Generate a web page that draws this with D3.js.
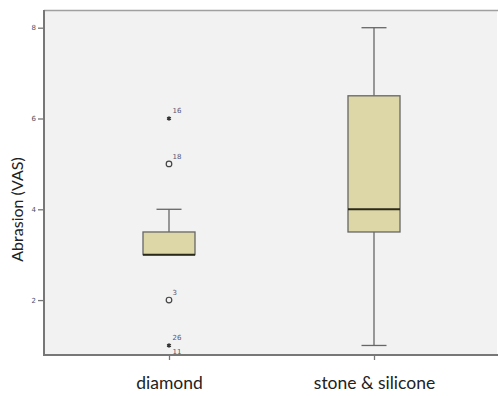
<!DOCTYPE html>
<html>
<head>
<meta charset="utf-8">
<script src="https://cdn.jsdelivr.net/npm/d3@7"></script>
<style>
  html, body { margin: 0; padding: 0; background: #ffffff; }
  svg { display: block; }
</style>
</head>
<body>
<svg id="chart" width="498" height="396"></svg>
<script>
// Groups and their box-plot summaries (Abrasion, VAS scale)
const groups = ["diamond", "stone & silicone"];
const q1 = [3, 3.5];
const medians = [3, 4];
const q3 = [3.5, 6.5];
const whiskerLow = [3, 1];
const whiskerHigh = [4, 8];

// Outlying cases: group index, value, marker type, case labels
const outlierGroup = [0, 0, 0, 0];
const outlierValue = [6, 5, 2, 1];
const outlierKind = ["extreme", "outlier", "outlier", "extreme"];
const outlierLabels = [["16"], ["18"], ["3"], ["26", "11"]];

const yTicks = [2, 4, 6, 8];
const yTitle = "Abrasion (VAS)";

const svg = d3.select("#chart");
const margin = { left: 44, top: 10, right: 1, bottom: 41 };
const W = 498, H = 396;

const x = d3.scalePoint().domain(groups).range([169, 374]);
const y = d3.scaleLinear().domain([0.79, 8.39]).range([H - margin.bottom, margin.top]);

// plot background
svg.append("rect")
  .attr("x", margin.left).attr("y", margin.top)
  .attr("width", W - margin.left - margin.right)
  .attr("height", H - margin.top - margin.bottom)
  .attr("fill", "#f2f2f2");

// frame
svg.append("line")
  .attr("x1", margin.left).attr("x2", W)
  .attr("y1", margin.top + 0.5).attr("y2", margin.top + 0.5)
  .attr("stroke", "#a0a0a0").attr("stroke-width", 1.5);

// y axis
const yAxis = d3.axisLeft(y).tickValues(yTicks).tickSize(6).tickSizeOuter(0).tickFormat(d3.format("d"));
const gy = svg.append("g").attr("transform", `translate(${margin.left},0)`).call(yAxis);
gy.select(".domain").attr("stroke", "#777").attr("stroke-width", 2)
  .attr("d", `M0,${margin.top}V${H - margin.bottom}`);
gy.selectAll(".tick line").attr("stroke", "#777").attr("stroke-width", 1.3);
gy.selectAll(".tick text")
  .attr("x", -8)
  .attr("fill", "#4a5068")
  .style("font-family", "'DejaVu Sans', sans-serif")
  .style("font-size", "7px");

// x axis
const xAxis = d3.axisBottom(x).tickSize(5).tickSizeOuter(0);
const gx = svg.append("g").attr("transform", `translate(0,${H - margin.bottom})`).call(xAxis);
gx.select(".domain").attr("stroke", "#777").attr("stroke-width", 2)
  .attr("d", `M${margin.left - 1},0H${W}`);
gx.selectAll(".tick line").attr("stroke", "#777").attr("stroke-width", 1.3);
gx.selectAll(".tick text")
  .attr("y", 22)
  .attr("fill", "#222")
  .style("font-family", "Lato, 'Open Sans', sans-serif")
  .style("font-size", "17.5px");

// y title
svg.append("text")
  .attr("transform", `translate(23,${(margin.top + H - margin.bottom) / 2 + 27}) rotate(-90)`)
  .attr("text-anchor", "middle")
  .attr("fill", "#222")
  .style("font-family", "Lato, 'Open Sans', sans-serif")
  .style("font-size", "16px")
  .text(yTitle);

// boxes
const boxW = 52, capW = 25;
const boxes = svg.append("g");
groups.forEach((g, i) => {
  const cx = x(g);
  const gg = boxes.append("g");
  // whiskers
  gg.append("line").attr("x1", cx).attr("x2", cx)
    .attr("y1", y(q3[i])).attr("y2", y(whiskerHigh[i]))
    .attr("stroke", "#666").attr("stroke-width", 1.3);
  gg.append("line").attr("x1", cx).attr("x2", cx)
    .attr("y1", y(q1[i])).attr("y2", y(whiskerLow[i]))
    .attr("stroke", "#666").attr("stroke-width", 1.3);
  if (whiskerHigh[i] > q3[i]) {
    gg.append("line").attr("x1", cx - capW / 2).attr("x2", cx + capW / 2)
      .attr("y1", y(whiskerHigh[i])).attr("y2", y(whiskerHigh[i]))
      .attr("stroke", "#666").attr("stroke-width", 1.3);
  }
  if (whiskerLow[i] < q1[i]) {
    gg.append("line").attr("x1", cx - capW / 2).attr("x2", cx + capW / 2)
      .attr("y1", y(whiskerLow[i])).attr("y2", y(whiskerLow[i]))
      .attr("stroke", "#666").attr("stroke-width", 1.3);
  }
  // box
  gg.append("rect")
    .attr("x", cx - boxW / 2).attr("y", y(q3[i]))
    .attr("width", boxW).attr("height", y(q1[i]) - y(q3[i]))
    .attr("fill", "#ddd6a6").attr("stroke", "#666").attr("stroke-width", 1.3);
  // median
  gg.append("line").attr("x1", cx - boxW / 2).attr("x2", cx + boxW / 2)
    .attr("y1", y(medians[i])).attr("y2", y(medians[i]))
    .attr("stroke", "#2a2a1a").attr("stroke-width", 2);
});

// outliers
const star = d3.symbol().type(d3.symbolAsterisk).size(14);
const outs = svg.append("g");
outlierValue.forEach((v, k) => {
  const cx = x(groups[outlierGroup[k]]);
  const cy = y(v);
  if (outlierKind[k] === "extreme") {
    outs.append("path").attr("d", star()).attr("transform", `translate(${cx},${cy})`)
      .attr("fill", "none").attr("stroke", "#333").attr("stroke-width", 1.3);
  } else {
    outs.append("circle").attr("cx", cx).attr("cy", cy).attr("r", 2.8)
      .attr("fill", "none").attr("stroke", "#444").attr("stroke-width", 1.2);
  }
  const labs = outlierLabels[k];
  labs.forEach((t, j) => {
    const dy = labs.length === 1 ? -5 : (j === 0 ? -5 : 8.5);
    outs.append("text")
      .attr("x", cx + 3.5).attr("y", cy + dy)
      .attr("fill", "#5a5470")
      .style("font-family", "'DejaVu Sans', sans-serif")
      .style("font-size", "7px")
      .text(t);
  });
});
</script>
</body>
</html>
